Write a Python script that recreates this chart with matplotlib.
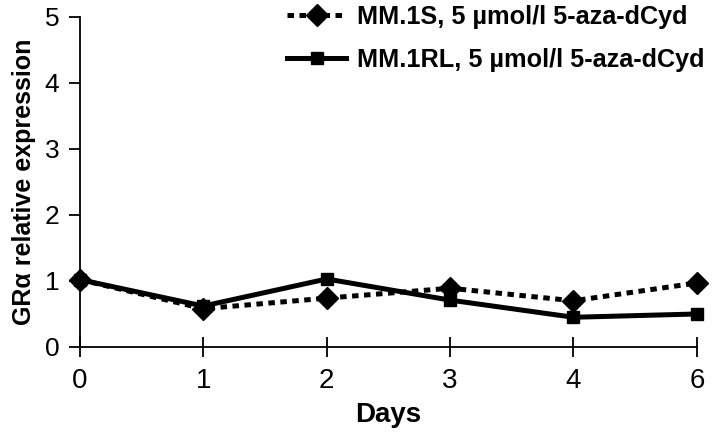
import matplotlib
matplotlib.use("Agg")
import matplotlib.pyplot as plt

# data
days = ["0", "1", "2", "3", "4", "6"]
mm1s = [1.02, 0.58, 0.74, 0.89, 0.70, 0.97]
mm1rl = [1.02, 0.62, 1.03, 0.71, 0.45, 0.50]
y_ticks = [0, 1, 2, 3, 4, 5]

plt.rcParams['font.family'] = ['Liberation Sans', 'DejaVu Sans']

fig = plt.figure(figsize=(7.14, 4.44), dpi=100)
ax = fig.add_axes([0.112, 0.2185, 0.864, 0.7435])

x = list(range(len(days)))
ax.plot(x, mm1s, color='black', linewidth=3.6, linestyle=(0, (1.3, 1.1)),
        marker='D', markersize=11, clip_on=False, zorder=3,
        label='MM.1S, 5 µmol/l 5-aza-dCyd')
ax.plot(x, mm1rl, color='black', linewidth=3.6, linestyle='-',
        marker='s', markersize=8.5, clip_on=False, zorder=4,
        label='MM.1RL, 5 µmol/l 5-aza-dCyd')

ax.set_xlim(0, len(days) - 1)
ax.set_ylim(0, 5)
ax.set_xticks(x)
ax.set_xticklabels(days)
ax.set_yticks(y_ticks)

for s in ['top', 'right']:
    ax.spines[s].set_visible(False)
for s in ['left', 'bottom']:
    ax.spines[s].set_linewidth(1.3)

ax.tick_params(axis='y', direction='out', length=8, width=1.3,
               labelsize=19, pad=7)
ax.tick_params(axis='x', direction='inout', length=14, width=1.3,
               labelsize=20, pad=8)

ax.set_xlabel('Days', fontsize=20, fontweight='bold', labelpad=6)
ax.set_ylabel('GR\u03b1 relative expression', fontsize=18,
              fontweight='bold', labelpad=6)

ax.legend(loc='upper left', bbox_to_anchor=(287 / 714, 1 - 5 / 444),
          bbox_transform=fig.transFigure, frameon=False,
          borderpad=0, borderaxespad=0,
          prop={'weight': 'bold', 'size': 18.2}, handlelength=2.35,
          handletextpad=0.4, labelspacing=0.75)

fig.savefig('out.png', dpi=100)
